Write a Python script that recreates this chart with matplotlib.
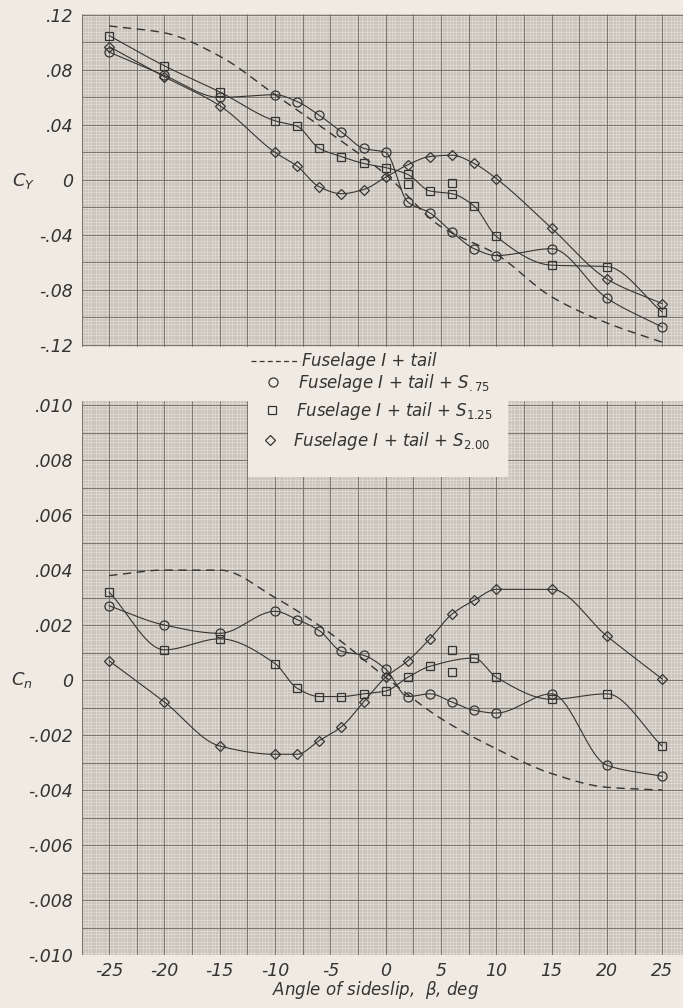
import numpy as np
import matplotlib
matplotlib.use("Agg")
import matplotlib.pyplot as plt
from matplotlib.lines import Line2D

# ---------------- data ----------------
beta = [-25, -20, -15, -10, -8, -6, -4, -2, 0, 2, 4, 6, 8, 10, 15, 20, 25]
beta_dash = [-25, -20, -15, -10, -5, 0, 5, 10, 15, 20, 25]

# Side-force coefficient C_Y
cy_tail = [0.112, 0.107, 0.090, 0.062, 0.034, 0.004, -0.034, -0.054, -0.085, -0.104, -0.118]
cy_s075 = [0.093, 0.076, 0.060, 0.062, 0.057, 0.047, 0.035, 0.023, 0.020, -0.016, -0.024,
           -0.038, -0.050, -0.055, -0.050, -0.086, -0.107]
cy_s125 = [0.105, 0.083, 0.064, 0.043, 0.039, 0.023, 0.017, 0.012, 0.009, 0.004, -0.008,
           -0.010, -0.019, -0.041, -0.062, -0.063, -0.096]
cy_s200 = [0.097, 0.075, 0.054, 0.020, 0.010, -0.005, -0.010, -0.007, 0.002, 0.011, 0.017,
           0.018, 0.012, 0.001, -0.035, -0.072, -0.090]
cy_s125_rep_beta = [2, 6]
cy_s125_rep = [-0.003, -0.002]

# Yawing-moment coefficient C_n
cn_tail = [0.0038, 0.0040, 0.0040, 0.0030, 0.0017, 0.0001, -0.0014, -0.0025, -0.0034, -0.0039, -0.0040]
cn_s075 = [0.0027, 0.0020, 0.0017, 0.0025, 0.0022, 0.0018, 0.00105, 0.0009, 0.0004, -0.0006,
           -0.0005, -0.0008, -0.0011, -0.0012, -0.0005, -0.0031, -0.0035]
beta_sq = [-25, -20, -15, -10, -8, -6, -4, -2, 0, 2, 4, 8, 10, 15, 20, 25]
cn_s125 = [0.0032, 0.0011, 0.0015, 0.0006, -0.0003, -0.0006, -0.0006, -0.0005, -0.0004, 0.0001,
           0.0005, 0.0008, 0.0001, -0.0007, -0.0005, -0.0024]
cn_s200 = [0.0007, -0.0008, -0.0024, -0.0027, -0.0027, -0.0022, -0.0017, -0.0008, 0.0001, 0.0007,
           0.0015, 0.0024, 0.0029, 0.0033, 0.0033, 0.0016, 0.00004]
cn_s125_rep_beta = [6, 6]
cn_s125_rep = [0.0011, 0.0003]

cy_ticks = [0.12, 0.08, 0.04, 0, -0.04, -0.08, -0.12]
cy_labels = ['.12', '.08', '.04', '0', '-.04', '-.08', '-.12']
cn_ticks = [0.010, 0.008, 0.006, 0.004, 0.002, 0, -0.002, -0.004, -0.006, -0.008, -0.010]
cn_labels = ['.010', '.008', '.006', '.004', '.002', '0', '-.002', '-.004', '-.006', '-.008', '-.010']
x_ticks = [-25, -20, -15, -10, -5, 0, 5, 10, 15, 20, 25]
x_labels = ['-25', '-20', '-15', '-10', '-5', '0', '5', '10', '15', '20', '25']

legend_labels = ['Fuselage I + tail',
                 'Fuselage I + tail + $S_{.75}$',
                 'Fuselage I + tail + $S_{1.25}$',
                 'Fuselage I + tail + $S_{2.00}$']

# ---------------- style ----------------
BG = '#efebe3'
INK = '#363432'
plt.rcParams['font.family'] = ['DejaVu Sans']
plt.rcParams['mathtext.fontset'] = 'dejavusans'
plt.rcParams['mathtext.default'] = 'it'

W, H = 683, 1008
fig = plt.figure(figsize=(W / 100, H / 100), dpi=100, facecolor=BG)


def px_axes(l, t, r, b, **kw):
    return fig.add_axes([l / W, 1 - b / H, (r - l) / W, (b - t) / H], **kw)


def smooth(x, y, n=30):
    """Faired curve through the points (shape-preserving cubic Hermite)."""
    x = np.asarray(x, float)
    y = np.asarray(y, float)
    h = np.diff(x)
    d = np.diff(y) / h
    m = np.zeros_like(y)
    for k in range(1, len(x) - 1):
        if d[k - 1] * d[k] > 0:
            w1 = 2 * h[k] + h[k - 1]
            w2 = h[k] + 2 * h[k - 1]
            m[k] = (w1 + w2) / (w1 / d[k - 1] + w2 / d[k])
    m[0] = d[0]
    m[-1] = d[-1]
    xs, ys = [], []
    for i in range(len(x) - 1):
        t = np.linspace(0, 1, n, endpoint=False)
        h00 = 2 * t**3 - 3 * t**2 + 1
        h10 = t**3 - 2 * t**2 + t
        h01 = -2 * t**3 + 3 * t**2
        h11 = t**3 - t**2
        xs.append(x[i] + t * h[i])
        ys.append(h00 * y[i] + h10 * h[i] * m[i] + h01 * y[i + 1] + h11 * h[i] * m[i + 1])
    xs.append([x[-1]])
    ys.append([y[-1]])
    return np.concatenate(xs), np.concatenate(ys)


def paper(ax, xmaj, ymaj):
    x0, x1 = ax.get_xlim()
    y0, y1 = ax.get_ylim()
    xm = np.arange(np.ceil(x0 / (xmaj / 10)), np.floor(x1 / (xmaj / 10)) + 1) * (xmaj / 10)
    ym = np.arange(np.ceil(y0 / (ymaj / 10)), np.floor(y1 / (ymaj / 10)) + 1) * (ymaj / 10)
    ax.vlines(xm, y0, y1, colors='#9d9991', lw=0.3, zorder=0.2)
    ax.hlines(ym, x0, x1, colors='#9d9991', lw=0.3, zorder=0.2)
    XM = np.arange(np.ceil(x0 / xmaj), np.floor(x1 / xmaj) + 1) * xmaj
    YM = np.arange(np.ceil(y0 / ymaj - 1e-6), np.floor(y1 / ymaj + 1e-6) + 1) * ymaj
    ax.vlines(XM, y0, y1, colors='#6c6862', lw=0.6, zorder=0.3)
    ax.hlines(YM, x0, x1, colors='#6c6862', lw=0.6, zorder=0.3)
    ax.set_facecolor('#e7e3db')
    for s in ax.spines.values():
        s.set_visible(False)
    ax.tick_params(length=0, colors=INK)


MK = dict(mfc='none', mec=INK, mew=0.9)


def series(ax, x, y, marker, ms):
    sx, sy = smooth(x, y)
    ax.plot(sx, sy, color=INK, lw=0.8, zorder=3)
    ax.plot(x, y, ls='none', marker=marker, ms=ms, zorder=4, **MK)


tick_font = dict(fontstyle='oblique', fontsize=12.5, color=INK)

# ---------------- top panel: C_Y ----------------
ax1 = px_axes(81.5, 14, 81.5 + 55 * 11.06, 347)
ax1.set_xlim(-27.5, 27.5)
ax1.set_ylim(-0.1215, 0.1207)
paper(ax1, 2.5, 0.02)
sx, sy = smooth(beta_dash, cy_tail)
ax1.plot(sx, sy, color=INK, lw=1.0, dashes=(6, 4), zorder=3)
series(ax1, beta, cy_s075, 'o', 6.5)
series(ax1, beta, cy_s125, 's', 6)
series(ax1, beta, cy_s200, 'D', 5.5)
ax1.plot(cy_s125_rep_beta, cy_s125_rep, ls='none', marker='s', ms=6, zorder=4, **MK)
ax1.set_xticks([])
ax1.set_yticks(cy_ticks)
ax1.set_yticklabels(cy_labels, **tick_font)
ax1.tick_params(axis='y', pad=6)

# ---------------- bottom panel: C_n ----------------
ax2 = px_axes(81.5, 401, 81.5 + 55 * 11.06, 955)
ax2.set_xlim(-27.5, 27.5)
ax2.set_ylim(-0.0100, 0.01015)
paper(ax2, 2.5, 0.001)
sx, sy = smooth(beta_dash, cn_tail)
ax2.plot(sx, sy, color=INK, lw=1.0, dashes=(6, 4), zorder=3)
series(ax2, beta, cn_s075, 'o', 6.5)
series(ax2, beta_sq, cn_s125, 's', 6)
series(ax2, beta, cn_s200, 'D', 5.5)
ax2.plot(cn_s125_rep_beta, cn_s125_rep, ls='none', marker='s', ms=6, zorder=4, **MK)
ax2.set_xticks(x_ticks)
ax2.set_xticklabels(x_labels, **tick_font)
ax2.set_yticks(cn_ticks)
ax2.set_yticklabels(cn_labels, **tick_font)
ax2.tick_params(axis='y', pad=6)
ax2.tick_params(axis='x', pad=5)

# axis titles
fig.text(24 / W, 1 - 181 / H, '$C_Y$', fontsize=13, color=INK, ha='center', va='center')
fig.text(22 / W, 1 - 680 / H, '$C_n$', fontsize=13, color=INK, ha='center', va='center')
fig.text(376 / W, 1 - 990 / H, r'Angle of sideslip,  $\beta$, deg', fontsize=12,
         fontstyle='oblique', color=INK, ha='center', va='center')

# ---------------- legend ----------------
lg = px_axes(248, 347, 508, 477, zorder=10)
lg.set_xlim(248, 508)
lg.set_ylim(477, 347)
lg.set_facecolor(BG)
lg.set_xticks([])
lg.set_yticks([])
for s in lg.spines.values():
    s.set_visible(False)
lg.add_line(Line2D([251, 300], [361, 361], color=INK, lw=0.9, dashes=(4, 2.5)))
lg.plot([273], [382], marker='o', ms=6.5, **MK)
lg.plot([272], [410], marker='s', ms=6, **MK)
lg.plot([270], [440], marker='D', ms=5.5, **MK)
txt = dict(fontsize=12, fontstyle='oblique', color=INK, ha='left', va='baseline')
lg.text(302, 366, legend_labels[0], **txt)
lg.text(298, 388, legend_labels[1], **txt)
lg.text(296, 416, legend_labels[2], **txt)
lg.text(293, 446, legend_labels[3], **txt)

fig.savefig('out.png', dpi=100, facecolor=BG)
